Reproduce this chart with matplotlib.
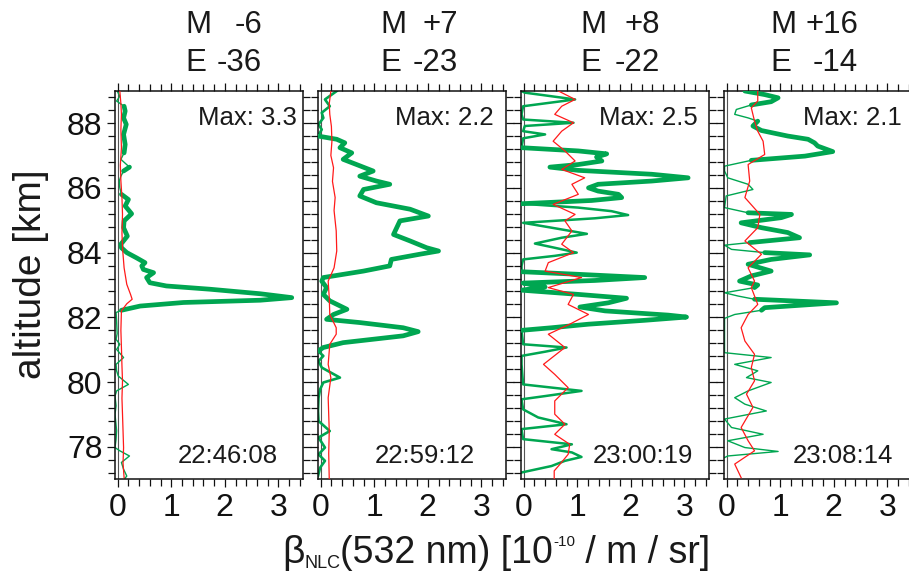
import numpy as np
import matplotlib
matplotlib.use('Agg')
import matplotlib.pyplot as plt
from matplotlib.ticker import MultipleLocator
from matplotlib.transforms import IdentityTransform

plt.rcParams['font.family'] = ['Liberation Sans', 'DejaVu Sans']

# ---------------- data ----------------
titles_m = ["M", "M", "M", "M"]
titles_mv = ["-6", "+7", "+8", "+16"]
titles_e = ["E", "E", "E", "E"]
titles_ev = ["-36", "-23", "-22", "-14"]
max_labels = ["Max: 3.3", "Max: 2.2", "Max: 2.5", "Max: 2.1"]
time_labels = ["22:46:08", "22:59:12", "23:00:19", "23:08:14"]
x_ticks = [0, 1, 2, 3]
y_ticks = [78, 80, 82, 84, 86, 88]

# panel 1
g1_alt = [88.99, 88.83, 88.68, 88.52, 88.37, 88.16, 87.96, 87.65, 87.34, 87.08, 86.88, 86.64, 86.52,
          86.36, 86.21, 86.00, 85.80, 85.64, 85.44, 85.20, 84.98, 84.77, 84.51, 84.26, 84.15, 84.00,
          83.84, 83.69, 83.59, 83.48, 83.38, 83.23, 83.07, 82.97, 82.87, 82.73, 82.61, 82.53, 82.46,
          82.35, 82.22, 82.15, 81.89, 81.50, 81.32, 81.17, 81.01, 80.76, 80.55, 80.35, 80.19, 79.93,
          79.73, 79.57, 79.27, 79.01, 78.50, 78.24, 77.98, 77.88, 77.72, 77.52, 77.31, 77.10, 77.00]
g1_val = [-0.01, 0.04, -0.02, 0.12, 0.14, 0.11, 0.16, 0.11, 0.14, 0.12, 0.06, 0.22, 0.11,
          0.06, 0.03, 0.04, 0.07, 0.20, 0.14, 0.26, 0.12, 0.11, 0.18, 0.06, 0.07, 0.17,
          0.35, 0.51, 0.45, 0.48, 0.67, 0.54, 0.60, 0.91, 1.72, 2.66, 3.25, 2.66, 1.23,
          0.42, 0.07, -0.03, -0.02, -0.01, -0.03, 0.04, -0.02, 0.11, -0.03, -0.02, 0.01, 0.20,
          -0.02, -0.05, -0.03, -0.05, -0.02, -0.03, -0.05, 0.04, 0.22, 0.07, 0.11, 0.17, 0.12]
g1_thick = [(86.95, 88.52), (86.52, 86.64), (84.26, 85.80), (82.22, 84.15)]
r1_alt = [88.99, 88.6, 88.27, 87.8, 87.24, 86.7, 86.21, 85.7, 85.18, 84.6, 84.15, 83.53, 83.02,
          82.71, 82.56, 82.42, 82.20, 81.6, 81.07, 80.5, 80.04, 79.5, 79.01, 78.5, 77.98, 77.5, 77.05]
r1_val = [0.04, 0.06, 0.07, 0.06, 0.07, 0.05, 0.06, 0.08, 0.09, 0.08, 0.09, 0.12, 0.17,
          0.24, 0.27, 0.17, 0.07, 0.06, 0.07, 0.08, 0.09, 0.08, 0.09, 0.10, 0.11, 0.10, 0.12]

# panel 2
g2_alt = [88.99, 88.73, 88.52, 88.32, 88.16, 87.96, 87.80, 87.60, 87.50, 87.39, 87.24, 87.08, 86.88,
          86.72, 86.52, 86.36, 86.21, 86.11, 85.95, 85.75, 85.54, 85.34, 85.13, 84.98, 84.77, 84.56,
          84.36, 84.15, 84.05, 83.95, 83.79, 83.59, 83.43, 83.23, 83.12, 82.92, 82.71, 82.51, 82.25,
          82.09, 81.94, 81.84, 81.68, 81.56, 81.43, 81.22, 81.07, 80.96, 80.81, 80.65, 80.45, 80.14,
          79.99, 79.78, 79.52, 79.11, 78.80, 78.49, 78.29, 77.98, 77.77, 77.57, 77.36, 77.10]
g2_val = [0.30, 0.08, 0.17, 0.02, 0.05, -0.04, 0.02, -0.05, 0.30, 0.45, 0.36, 0.58, 0.42,
          0.67, 0.98, 0.73, 1.04, 1.29, 0.80, 0.73, 1.04, 1.67, 2.01, 1.48, 1.42, 1.36,
          1.67, 1.98, 2.20, 1.85, 1.32, 1.29, 0.80, 0.05, 0.02, 0.11, 0.05, 0.17, 0.49,
          0.24, 0.11, 0.73, 1.54, 1.82, 1.54, 0.42, 0.05, -0.05, 0.05, -0.04, 0.02, 0.36,
          0.05, -0.01, -0.04, -0.05, -0.04, 0.17, -0.04, 0.08, -0.04, 0.08, -0.01, -0.05]
g2_thick = [(80.96, 87.60)]
r2_alt = [88.99, 88.6, 88.27, 87.9, 87.44, 87.0, 86.62, 86.2, 85.70, 85.3, 84.67, 84.05, 83.53,
          83.12, 82.61, 82.09, 81.68, 81.48, 81.17, 80.55, 80.14, 79.52, 79.0, 78.49, 77.8, 77.0]
r2_val = [0.19, 0.16, 0.17, 0.20, 0.21, 0.19, 0.24, 0.22, 0.27, 0.25, 0.29, 0.30, 0.25,
          0.14, 0.16, 0.17, 0.29, 0.29, 0.17, 0.14, 0.19, 0.14, 0.15, 0.16, 0.15, 0.16]

# panel 3
g3_alt = [88.99, 88.94, 88.73, 88.52, 88.27, 88.11, 88.01, 87.91, 87.75, 87.65, 87.53, 87.24, 87.14,
          87.05, 86.95, 86.83, 86.72, 86.64, 86.54, 86.42, 86.31, 86.21, 86.11, 86.00, 85.90, 85.80,
          85.70, 85.61, 85.51, 85.39, 85.28, 85.16, 85.06, 84.92, 84.77, 84.58, 84.46, 84.28, 84.15,
          84.00, 83.90, 83.79, 83.59, 83.41, 83.33, 83.23, 83.14, 83.06, 82.94, 82.84, 82.71, 82.59,
          82.45, 82.32, 82.20, 82.07, 82.01, 81.91, 81.79, 81.68, 81.60, 81.17, 81.07, 80.94, 80.81,
          80.55, 79.93, 79.73, 79.57, 79.47, 79.16, 78.91, 78.70, 78.55, 78.24, 78.08, 77.93, 77.83,
          77.69, 77.57, 77.41, 77.21]
g3_val = [-0.04, 0.02, 0.96, -0.01, -0.04, -0.01, 0.93, 0.02, -0.01, 0.40, -0.01, -0.04, 1.02,
          1.55, 1.36, 1.46, 1.02, 0.49, 1.02, 2.39, 3.07, 2.39, 1.39, 1.21, 1.39, 1.77,
          1.83, 1.27, -0.04, 1.02, 1.64, 1.95, 1.33, -0.01, 0.52, 1.18, 0.71, 0.21, 0.58,
          0.99, 0.58, -0.01, -0.04, -0.04, 1.02, 2.26, 1.33, -0.01, 0.40, -0.04, 1.02, 1.92,
          1.58, 1.05, 1.52, 2.70, 3.04, 2.26, 1.21, 0.52, -0.04, -0.01, 0.80, 0.40, -0.04,
          -0.04, -0.01, 1.08, 0.40, -0.04, -0.01, 0.27, 0.80, -0.04, -0.01, 0.90, 0.52, 0.90,
          1.08, 0.77, 0.52, -0.04]
g3_thick = [(85.51, 87.24), (81.60, 83.41)]
r3_alt = [88.99, 88.73, 88.52, 88.27, 88.01, 87.75, 87.44, 87.14, 86.83, 86.57, 86.31, 86.11, 85.80,
          85.49, 85.18, 84.98, 84.67, 84.26, 84.00, 83.69, 83.43, 83.23, 82.92, 82.71, 82.40, 82.09,
          81.79, 81.48, 81.07, 80.55, 80.24, 79.83, 79.42, 79.01, 78.70, 78.39, 78.08, 77.77, 77.47,
          77.26, 77.00]
r3_val = [0.65, 0.96, 0.71, 0.58, 0.93, 0.71, 0.55, 0.77, 0.96, 0.71, 1.14, 0.90, 1.02,
          0.55, 0.96, 0.77, 0.90, 0.71, 0.93, 0.46, 0.40, 1.08, 0.46, 0.93, 0.83, 1.21,
          0.86, 0.46, 0.77, 0.37, 0.58, 0.83, 0.58, 0.58, 0.77, 0.58, 0.86, 0.83, 0.68,
          0.57, 0.57]

# panel 4
g4_alt = [88.99, 88.88, 88.78, 88.66, 88.56, 88.42, 88.27, 88.16, 88.06, 87.91, 87.77, 87.60, 87.50,
          87.39, 87.29, 87.12, 86.98, 86.85, 86.67, 86.52, 86.31, 86.11, 85.95, 85.75, 85.39, 85.23,
          85.18, 85.08, 84.92, 84.77, 84.62, 84.46, 84.31, 84.23, 84.10, 84.00, 83.93, 83.79, 83.64,
          83.43, 83.28, 83.12, 83.00, 82.92, 82.76, 82.66, 82.56, 82.45, 82.30, 82.22, 82.09, 81.97,
          81.68, 80.91, 80.76, 80.55, 80.35, 80.14, 79.99, 79.73, 79.52, 79.32, 79.11, 78.86, 78.60,
          78.39, 78.19, 77.98, 77.86, 77.72, 77.67]
g4_val = [0.34, 0.71, 0.96, 0.83, 0.46, 0.18, 0.15, 0.40, 0.58, 0.49, 0.65, 1.14, 1.52,
          1.64, 1.70, 1.98, 1.46, 0.46, -0.04, -0.04, 0.02, 0.40, 0.49, -0.01, -0.04, 0.40,
          1.21, 1.02, 0.27, 0.65, 1.14, 1.36, 0.43, -0.04, 0.09, 0.71, 1.55, 0.83, 0.40,
          0.83, 0.46, 0.24, 0.58, 0.52, -0.04, 0.21, 0.52, 2.05, 0.71, 0.65, 0.15, -0.04,
          -0.04, -0.04, 0.83, 0.15, 0.58, 0.37, 0.83, 0.40, 0.15, 0.34, 0.74, -0.04, 0.09,
          0.68, 0.02, 0.34, 0.96, 0.02, -0.04]
g4_thick = [(88.56, 88.99), (86.85, 88.06), (84.31, 85.23), (82.92, 84.00), (82.22, 82.56)]
r4_alt = [88.99, 88.68, 88.47, 88.06, 87.75, 87.44, 87.03, 86.72, 86.21, 85.70, 85.18, 84.77, 84.36,
          83.95, 83.53, 83.12, 82.92, 82.40, 82.09, 81.68, 81.27, 80.86, 80.45, 80.04, 79.63, 79.22,
          78.60, 78.19, 77.88, 77.47, 77.05]
r4_val = [0.58, 0.58, 0.46, 0.52, 0.58, 0.68, 0.71, 0.40, 0.43, 0.34, 0.62, 0.58, 0.34,
          0.65, 0.40, 0.52, 0.46, 0.58, 0.40, 0.27, 0.34, 0.52, 0.46, 0.52, 0.37, 0.49,
          0.27, 0.40, 0.52, 0.15, 0.27]

green_alt = [g1_alt, g2_alt, g3_alt, g4_alt]
green_val = [g1_val, g2_val, g3_val, g4_val]
green_thick = [g1_thick, g2_thick, g3_thick, g4_thick]
red_alt = [r1_alt, r2_alt, r3_alt, r4_alt]
red_val = [r1_val, r2_val, r3_val, r4_val]

# ---------------- style / layout ----------------
W, H = 909, 575
GREEN = '#00A651'
RED = '#FF1A1A'
TXT = '#1a1a1a'
thin_w = [1.0, 1.9, 1.8, 1.0]
panel_left = [115, 318, 521, 724]
panel_w, ax_bottom_px, ax_h_px = 188, 479.3, 388.6
max_x = [0.968, 0.936, 0.941, 0.947]
time_x = [0.867, 0.835, 0.915, 0.899]
title_left = [185, 380, 580, 770]
title_right = [262, 458, 660, 858]

fig = plt.figure(figsize=(W / 100, H / 100), dpi=100)

for i in range(4):
    ax = fig.add_axes([panel_left[i] / W, (H - ax_bottom_px) / H, panel_w / W, ax_h_px / H])
    alt = np.array(green_alt[i])
    val = np.array(green_val[i])
    ax.axvline(0, color='#555555', lw=0.8, zorder=1)
    ax.plot(val, alt, color=GREEN, lw=thin_w[i], zorder=2, solid_joinstyle='round')
    mask = np.zeros(len(alt), dtype=bool)
    for lo, hi in green_thick[i]:
        mask |= (alt >= lo - 1e-6) & (alt <= hi + 1e-6)
    thick_val = np.where(mask, val, np.nan)
    ax.plot(thick_val, alt, color=GREEN, lw=3.4, zorder=3,
            solid_joinstyle='round', solid_capstyle='round')
    ax.plot(red_val[i], red_alt[i], color=RED, lw=0.9, zorder=4)

    ax.set_xlim(-0.05, 3.46)
    ax.set_ylim(77, 89)
    ax.set_xticks(x_ticks)
    ax.set_yticks(y_ticks)
    ax.xaxis.set_minor_locator(MultipleLocator(0.2))
    ax.yaxis.set_minor_locator(MultipleLocator(0.4))
    ax.tick_params(which='both', direction='out', top=True, right=True, width=0.9,
                   labelsize=23, colors='#111111')
    ax.tick_params(which='major', length=6)
    ax.tick_params(which='minor', length=5)
    ax.tick_params(axis='x', pad=4)
    ax.tick_params(axis='y', pad=3)
    if i > 0:
        ax.tick_params(axis='y', labelleft=False)
    for sp in ax.spines.values():
        sp.set_linewidth(1.1)
        sp.set_color('#111111')

    ax.text(max_x[i], 0.912, max_labels[i], transform=ax.transAxes, ha='right',
            va='baseline', fontsize=18.5, color=TXT)
    ax.text(time_x[i], 0.042, time_labels[i], transform=ax.transAxes, ha='right',
            va='baseline', fontsize=18.5, color=TXT)

    # two-line title above panel
    for line, (lab, num) in enumerate([(titles_m[i], titles_mv[i]), (titles_e[i], titles_ev[i])]):
        ybase = [33, 71][line]
        fig.text(title_left[i] / W, 1 - ybase / H, lab, ha='left', va='baseline',
                 fontsize=22.5, color=TXT)
        fig.text(title_right[i] / W, 1 - ybase / H, num, ha='right', va='baseline',
                 fontsize=22.5, color=TXT)

fig.text(31 / W, 1 - 274 / H, 'altitude [km]', rotation=90, ha='center', va='center',
         fontsize=28, color=TXT)

# x label assembled from pieces (sub/superscripts)
pieces = [("β", 28, 0), ("NLC", 13, -5), ("(532 nm) [10", 27, 0), ("-10", 11, 17),
          (" / m / sr]", 27, 0)]
renderer = fig.canvas.get_renderer()
objs, widths = [], []
for s, size, dy in pieces:
    t = fig.text(0, 0, s, fontsize=size, transform=IdentityTransform(), ha='left',
                 va='baseline', color=TXT)
    bb = t.get_window_extent(renderer)
    objs.append(t)
    widths.append(bb.width)
total = sum(widths)
x0 = 496 - total / 2
base = H - 563
for t, w, (s, size, dy) in zip(objs, widths, pieces):
    t.set_position((x0, base + dy))
    x0 += w

fig.savefig('out.png', dpi=100)
